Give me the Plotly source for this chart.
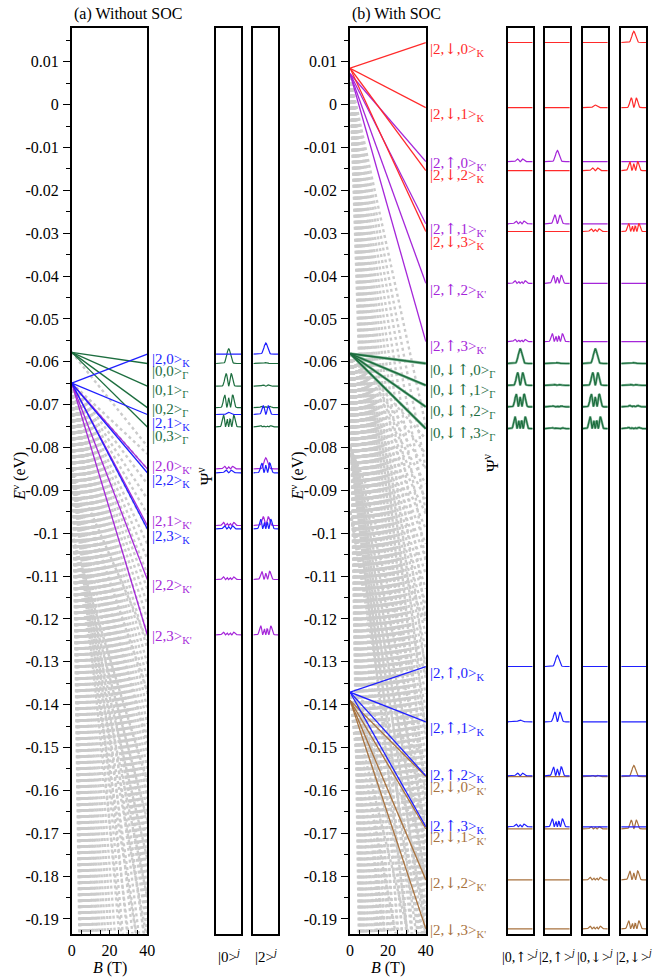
import plotly.graph_objects as go

W, H = 657, 980
Y_RANGE = [-0.1934, 0.0180]
B_RANGE = [0, 40]

# ---------------- tick labels ----------------
Y_TICK_VALS = [0.01, 0.0, -0.01, -0.02, -0.03, -0.04, -0.05, -0.06, -0.07, -0.08, -0.09, -0.10,
               -0.11, -0.12, -0.13, -0.14, -0.15, -0.16, -0.17, -0.18, -0.19]
Y_TICK_TEXT = ["0.01", "0", "-0.01", "-0.02", "-0.03", "-0.04", "-0.05", "-0.06", "-0.07", "-0.08",
               "-0.09", "-0.1", "-0.11", "-0.12", "-0.13", "-0.14", "-0.15", "-0.16", "-0.17", "-0.18", "-0.19"]
B_TICK_VALS = [0, 20, 40]
B_TICK_TEXT = ["0", "20", "40"]

# ---------------- panel (a): Landau-level lines (start at B=0, end at B=40) ----------------
A_GREEN_START = -0.0578
A_GREEN_END = [-0.0604, -0.0657, -0.0707, -0.0752]
A_BLUE_START = -0.0650
A_BLUE_END = [-0.0582, -0.0723, -0.0859, -0.0990]
A_PURPLE_START = -0.0650
A_PURPLE_END = [-0.0850, -0.0982, -0.1108, -0.1237]

A_GREEN_TEXT = ["|0,0&gt;<sub>Γ</sub>", "|0,1&gt;<sub>Γ</sub>", "|0,2&gt;<sub>Γ</sub>", "|0,3&gt;<sub>Γ</sub>"]
A_BLUE_TEXT = ["|2,0&gt;<sub>K</sub>", "|2,1&gt;<sub>K</sub>", "|2,2&gt;<sub>K</sub>", "|2,3&gt;<sub>K</sub>"]
A_PURPLE_TEXT = ["|2,0&gt;<sub>K'</sub>", "|2,1&gt;<sub>K'</sub>", "|2,2&gt;<sub>K'</sub>", "|2,3&gt;<sub>K'</sub>"]

# wavefunction weights in the |0> and |2> panels: (shape index, amplitude in eV)
A_GREEN_PSI0 = [(0, 0.0035), (1, 0.0030), (2, 0.0030), (3, 0.0028)]
A_GREEN_PSI2 = [(0, 0.0002), (1, 0.0003), (2, 0.0003), (3, 0.0003)]
A_BLUE_PSI0 = [(0, 0.0), (0, 0.0005), (1, 0.0006), (2, 0.0007)]
A_BLUE_PSI2 = [(0, 0.0026), (1, 0.0021), (2, 0.0023), (3, 0.0023)]
A_PURPLE_PSI0 = [(2, 0.0006), (3, 0.0007), (3, 0.0006), (3, 0.0006)]
A_PURPLE_PSI2 = [(0, 0.0026), (1, 0.0021), (2, 0.0019), (3, 0.0021)]

# gray background spectrum: dotted fan lines (start energy at B=0, energies at B=40)
FAN_A_TOP_START = -0.0578
FAN_A_TOP_END = [-0.0797]
FAN_A_START = -0.0650
FAN_A_END = [-0.0815, -0.085, -0.0885, -0.092, -0.0955, -0.099, -0.1025, -0.106, -0.1095, -0.113,
             -0.1165, -0.12, -0.1235, -0.127, -0.1305, -0.134, -0.1375, -0.141, -0.1445, -0.148,
             -0.1515, -0.155, -0.1585, -0.162, -0.1655, -0.169, -0.1725, -0.176, -0.1795, -0.183,
             -0.1865, -0.19, -0.1935, -0.2, -0.21, -0.225, -0.24, -0.255, -0.27, -0.29, -0.31,
             -0.33, -0.355, -0.38, -0.41, -0.44, -0.47, -0.51, -0.55, -0.6, -0.65, -0.71, -0.78,
             -0.85, -0.93, -1.02, -1.12, -1.23, -1.35]
FAN_A2_START = -0.085
FAN_A2_END = [-0.125, -0.137, -0.149, -0.161, -0.173, -0.185, -0.198, -0.212, -0.23, -0.25]
FAN_A3_START = -0.100
FAN_A3_END = [-0.158, -0.167, -0.176, -0.185, -0.195, -0.21]

# ---------------- panel (b) ----------------
B_RED_START = 0.0085
B_RED_END = [0.0145, -0.0007, -0.0154, -0.0296]
B_PURPLE_START = 0.0072
B_PURPLE_END = [-0.0133, -0.0278, -0.0417, -0.0553]
B_GREEN_START = -0.0581
B_GREEN_END = [-0.0604, -0.0655, -0.0705, -0.0756]
B_BLUE_START = -0.1371
B_BLUE_END = [-0.1311, -0.1440, -0.1566, -0.1685]
B_BROWN_START = -0.1390
B_BROWN_END = [-0.1568, -0.1690, -0.1809, -0.1923]

ARROW_DN = '<span style="font-family:DejaVu Serif">↓</span>'
ARROW_UP = '<span style="font-family:DejaVu Serif">↑</span>'
LEVEL_N = ["0", "1", "2", "3"]
B_RED_TEXT = ["|2," + ARROW_DN + "," + n + "&gt;<sub>K</sub>" for n in LEVEL_N]
B_PURPLE_TEXT = ["|2," + ARROW_UP + "," + n + "&gt;<sub>K'</sub>" for n in LEVEL_N]
B_GREEN_TEXT = ["|0," + ARROW_DN + ARROW_UP + "," + n + "&gt;<sub>Γ</sub>" for n in LEVEL_N]
B_BLUE_TEXT = ["|2," + ARROW_UP + "," + n + "&gt;<sub>K</sub>" for n in LEVEL_N]
B_BROWN_TEXT = ["|2," + ARROW_DN + "," + n + "&gt;<sub>K'</sub>" for n in LEVEL_N]

# wavefunction weights in |0,↑>, |2,↑>, |0,↓>, |2,↓> panels
B_RED_PSI = [
    [(0, 0.0), (0, 0.0), (0, 0.0), (0, 0.0026)],
    [(0, 0.0), (0, 0.0), (0, 0.0006), (1, 0.0023)],
    [(0, 0.0), (0, 0.0), (1, 0.0006), (2, 0.0021)],
    [(0, 0.0), (0, 0.0), (2, 0.0006), (3, 0.0019)],
]
B_PURPLE_PSI = [
    [(1, 0.0006), (0, 0.0026), (0, 0.0), (0, 0.0)],
    [(2, 0.0006), (1, 0.0021), (0, 0.0), (0, 0.0)],
    [(3, 0.0006), (2, 0.0019), (0, 0.0), (0, 0.0)],
    [(3, 0.0005), (3, 0.0019), (0, 0.0), (0, 0.0)],
]
B_GREEN_PSI = [
    [(0, 0.0035), (0, 0.0002), (0, 0.0035), (0, 0.0002)],
    [(1, 0.0030), (1, 0.0002), (1, 0.0030), (1, 0.0002)],
    [(2, 0.0030), (2, 0.0002), (2, 0.0030), (2, 0.0003)],
    [(3, 0.0028), (3, 0.0002), (3, 0.0028), (3, 0.0003)],
]
B_BLUE_PSI = [
    [(0, 0.0), (0, 0.0026), (0, 0.0), (0, 0.0)],
    [(0, 0.0004), (1, 0.0023), (0, 0.0), (0, 0.0)],
    [(1, 0.0006), (2, 0.0021), (0, 0.0), (0, 0.0)],
    [(2, 0.0006), (3, 0.0019), (0, 0.0), (0, 0.0)],
]
B_BROWN_PSI = [
    [(0, 0.0), (0, 0.0), (1, 0.0003), (0, 0.0026)],
    [(0, 0.0), (0, 0.0), (2, 0.0005), (1, 0.0021)],
    [(0, 0.0), (0, 0.0), (3, 0.0006), (2, 0.0021)],
    [(0, 0.0), (0, 0.0), (3, 0.0006), (3, 0.0019)],
]

FAN_B_UP_START = 0.0065
FAN_B_UP_END = [-0.075, -0.085, -0.095, -0.107, -0.12, -0.133, -0.147, -0.162, -0.178, -0.195,
                -0.215, -0.237, -0.26, -0.285, -0.315, -0.35, -0.39, -0.435, -0.49, -0.55]
FAN_B_MID_START = -0.0581
FAN_B_MID_END = [-0.078, -0.0815, -0.085, -0.0885, -0.092, -0.0955, -0.099, -0.1025, -0.106,
                 -0.1095, -0.113, -0.1165, -0.12, -0.1235, -0.127, -0.1305, -0.134, -0.1375,
                 -0.141, -0.1445, -0.148, -0.1515, -0.155, -0.1585, -0.162, -0.1655, -0.169,
                 -0.1725, -0.176, -0.1795, -0.183, -0.1865, -0.19, -0.1935, -0.2, -0.21, -0.225,
                 -0.24, -0.255, -0.27, -0.29, -0.31, -0.33, -0.355, -0.38, -0.41, -0.44, -0.47,
                 -0.51, -0.55, -0.6, -0.65, -0.71, -0.78, -0.85, -0.93, -1.02, -1.12, -1.23]
FAN_B_LOW_START = -0.1380
FAN_B_LOW_END = [-0.145, -0.152, -0.159, -0.166, -0.173, -0.18, -0.187, -0.195, -0.21, -0.23,
                 -0.26, -0.3]
FAN_B2_START = -0.080
FAN_B2_END = [-0.121, -0.133, -0.145, -0.157, -0.169, -0.181, -0.194, -0.21, -0.23]
FAN_B3_START = -0.095
FAN_B3_END = [-0.163, -0.172, -0.181, -0.19, -0.2]

# |psi_n|^2 profile shapes (half profile, read at equal steps from the centre outward)
PROFILES = {
    0: [1.0, 0.94, 0.78, 0.57, 0.37, 0.21, 0.10, 0.05, 0.02, 0.006, 0.002, 0, 0, 0, 0],
    1: [0.0, 0.16, 0.53, 0.87, 1.0, 0.89, 0.64, 0.39, 0.20, 0.08, 0.03, 0.01, 0, 0, 0],
    2: [0.77, 0.55, 0.15, 0.01, 0.28, 0.73, 0.99, 0.95, 0.69, 0.41, 0.20, 0.08, 0.03, 0.01, 0],
    3: [0.0, 0.27, 0.66, 0.62, 0.20, 0.0, 0.29, 0.77, 1.0, 0.89, 0.60, 0.32, 0.14, 0.05, 0.015],
}

# ---------------- colours ----------------
C_RED = "#ff2a2a"
C_PURPLE = "#a526d9"
C_BLUE = "#1f1fff"
C_GREEN = "#1d6e3f"
C_GREEN_LIGHT = "#86b89b"
C_BROWN = "#a8723e"
C_GRAY = "#cbcbcb"
FONT = "Liberation Serif"

# ---------------- layout geometry (pixels) ----------------
Y_TOP, Y_BOT = 27.5, 933.5
YDOM = [1 - Y_BOT / H, 1 - Y_TOP / H]


def xdom(p0, p1):
    return [p0 / W, p1 / W]


PANELS = {
    "a_main": ("x", "y", xdom(69, 146)),
    "a_0": ("x2", "y2", xdom(216, 241.7)),
    "a_2": ("x3", "y3", xdom(254, 279.3)),
    "b_main": ("x4", "y4", xdom(352.5, 429.7)),
    "b_0u": ("x5", "y5", xdom(513, 538.5)),
    "b_2u": ("x6", "y6", xdom(551, 576.3)),
    "b_0d": ("x7", "y7", xdom(589.5, 615)),
    "b_2d": ("x8", "y8", xdom(628.7, 654.3)),
}

fig = go.Figure()


def add_fan(panel, start, ends, width=2.4):
    xa, ya, _ = PANELS[panel]
    xs, ys = [], []
    for e in ends:
        xs += [B_RANGE[0], B_RANGE[1], None]
        ys += [start, e, None]
    fig.add_trace(go.Scatter(x=xs, y=ys, mode="lines", xaxis=xa, yaxis=ya, hoverinfo="skip",
                             line=dict(color=C_GRAY, width=width, dash="dot"), showlegend=False))


def add_lines(panel, start, ends, color, width=1.3):
    xa, ya, _ = PANELS[panel]
    xs, ys = [], []
    for e in ends:
        xs += [B_RANGE[0], B_RANGE[1], None]
        ys += [start, e, None]
    fig.add_trace(go.Scatter(x=xs, y=ys, mode="lines", xaxis=xa, yaxis=ya, hoverinfo="skip",
                             line=dict(color=color, width=width), showlegend=False))


def psi_xy(E, shape, amp):
    if amp == 0:
        return [0.0, 1.0], [E, E]
    half = PROFILES[shape]
    n = len(half)
    step = 0.025
    xs = [0.0] + [0.5 - step * i for i in range(n - 1, 0, -1)] + [0.5 + step * i for i in range(n)] + [1.0]
    vals = [0.0] + [half[i] for i in range(n - 1, 0, -1)] + [half[i] for i in range(n)] + [0.0]
    ys = [E + amp * v for v in vals]
    return xs, ys


def add_psi(panel, ends, specs, color, width=1.2):
    xa, ya, _ = PANELS[panel]
    xs, ys = [], []
    for E, (shape, amp) in zip(ends, specs):
        x, y = psi_xy(E, shape, amp)
        xs += x + [None]
        ys += y + [None]
    fig.add_trace(go.Scatter(x=xs, y=ys, mode="lines", xaxis=xa, yaxis=ya, hoverinfo="skip",
                             line=dict(color=color, width=width), showlegend=False))


# ---- panel (a) ----
add_fan("a_main", FAN_A_TOP_START, FAN_A_TOP_END)
add_fan("a_main", FAN_A_START, FAN_A_END)
add_fan("a_main", FAN_A2_START, FAN_A2_END)
add_fan("a_main", FAN_A3_START, FAN_A3_END)
add_lines("a_main", A_GREEN_START, A_GREEN_END, C_GREEN)
add_lines("a_main", A_PURPLE_START, A_PURPLE_END, C_PURPLE)
add_lines("a_main", A_BLUE_START, A_BLUE_END, C_BLUE)

add_psi("a_0", A_GREEN_END, A_GREEN_PSI0, C_GREEN)
add_psi("a_0", A_PURPLE_END, A_PURPLE_PSI0, C_PURPLE)
add_psi("a_0", A_BLUE_END, A_BLUE_PSI0, C_BLUE)
add_psi("a_2", A_GREEN_END, A_GREEN_PSI2, C_GREEN)
add_psi("a_2", A_PURPLE_END, A_PURPLE_PSI2, C_PURPLE)
add_psi("a_2", A_BLUE_END, A_BLUE_PSI2, C_BLUE)

# ---- panel (b) ----
add_fan("b_main", FAN_B_UP_START, FAN_B_UP_END)
add_fan("b_main", FAN_B_MID_START, FAN_B_MID_END)
add_fan("b_main", FAN_B_LOW_START, FAN_B_LOW_END)
add_fan("b_main", FAN_B2_START, FAN_B2_END)
add_fan("b_main", FAN_B3_START, FAN_B3_END)
add_lines("b_main", B_GREEN_START, B_GREEN_END, C_GREEN_LIGHT, width=2.8)
add_lines("b_main", B_GREEN_START, B_GREEN_END, C_GREEN, width=1.6)
add_lines("b_main", B_PURPLE_START, B_PURPLE_END, C_PURPLE)
add_lines("b_main", B_RED_START, B_RED_END, C_RED)
add_lines("b_main", B_BROWN_START, B_BROWN_END, C_BROWN)
add_lines("b_main", B_BLUE_START, B_BLUE_END, C_BLUE)

for k, panel in enumerate(["b_0u", "b_2u", "b_0d", "b_2d"]):
    add_psi(panel, B_GREEN_END, [s[k] for s in B_GREEN_PSI], C_GREEN_LIGHT, width=2.4)
    add_psi(panel, B_GREEN_END, [s[k] for s in B_GREEN_PSI], C_GREEN, width=1.2)
    add_psi(panel, B_PURPLE_END, [s[k] for s in B_PURPLE_PSI], C_PURPLE)
    add_psi(panel, B_RED_END, [s[k] for s in B_RED_PSI], C_RED)
    add_psi(panel, B_BROWN_END, [s[k] for s in B_BROWN_PSI], C_BROWN)
    add_psi(panel, B_BLUE_END, [s[k] for s in B_BLUE_PSI], C_BLUE)

# ---------------- axes ----------------
layout = dict(
    width=W, height=H, margin=dict(l=0, r=0, t=0, b=0),
    paper_bgcolor="white", plot_bgcolor="white", showlegend=False,
    font=dict(family=FONT, size=15, color="black"),
)

for name, (xa, ya, dom) in PANELS.items():
    xkey = "xaxis" if xa == "x" else "xaxis" + xa[1:]
    ykey = "yaxis" if ya == "y" else "yaxis" + ya[1:]
    main = name.endswith("main")
    xd = dict(domain=dom, anchor=ya, showline=True, mirror=True, linecolor="black", linewidth=1.5,
              showgrid=False, zeroline=False, fixedrange=True)
    yd = dict(domain=YDOM, anchor=xa, range=Y_RANGE, showline=True, mirror=True, linecolor="black",
              linewidth=1.5, showgrid=False, zeroline=False, fixedrange=True)
    if main:
        xd.update(range=B_RANGE, tickmode="array", tickvals=B_TICK_VALS, ticktext=B_TICK_TEXT,
                  ticks="inside", ticklen=4, tickwidth=1, tickcolor="black", ticklabelstandoff=2,
                  tickfont=dict(size=16, family=FONT),
                  minor=dict(tickmode="linear", tick0=0, dtick=5, ticks="inside", ticklen=4,
                             tickcolor="black", tickwidth=1))
        yd.update(tickmode="array", tickvals=Y_TICK_VALS, ticktext=Y_TICK_TEXT, ticks="outside",
                  ticklen=7, tickwidth=1, tickcolor="black", tickfont=dict(size=16, family=FONT),
                  ticklabelstandoff=1,
                  minor=dict(tickmode="linear", tick0=0, dtick=0.005, ticks="outside", ticklen=4,
                             tickcolor="black", tickwidth=1))
    else:
        xd.update(range=[0, 1], showticklabels=False, ticks="")
        yd.update(showticklabels=False, ticks="")
    layout[xkey] = xd
    layout[ykey] = yd

fig.update_layout(**layout)

# ---------------- annotations ----------------
ann = []


def px_ann(text, x, y, color="black", size=15, xanchor="left", yanchor="middle", angle=0):
    ann.append(dict(text=text, x=x / W, y=1 - y / H, xref="paper", yref="paper", showarrow=False,
                    xanchor=xanchor, yanchor=yanchor, textangle=angle,
                    font=dict(family=FONT, size=size, color=color)))


px_ann("(a) Without SOC", 69, 14, size=16)
px_ann("(b) With SOC", 352, 14, size=16)

LABEL_A_X = 149
A_GREEN_LY = [369, 388, 407, 434]
A_BLUE_LY = [357, 421, 478, 534]
A_PURPLE_LY = [464, 519, 583, 634]
for t, y in zip(A_GREEN_TEXT, A_GREEN_LY):
    px_ann(t, LABEL_A_X, y + 3, C_GREEN)
for t, y in zip(A_BLUE_TEXT, A_BLUE_LY):
    px_ann(t, LABEL_A_X, y + 3, C_BLUE)
for t, y in zip(A_PURPLE_TEXT, A_PURPLE_LY):
    px_ann(t, LABEL_A_X, y + 3, C_PURPLE)

LABEL_B_X = 432
B_RED_LY = [47, 112, 172, 240]
B_PURPLE_LY = [160, 226, 287, 343]
B_GREEN_LY = [367, 387, 408, 430]
B_BLUE_LY = [670, 725, 772, 823]
B_BROWN_LY = [784, 834, 880, 927]
for texts, ys, c in [(B_RED_TEXT, B_RED_LY, C_RED), (B_PURPLE_TEXT, B_PURPLE_LY, C_PURPLE),
                     (B_GREEN_TEXT, B_GREEN_LY, C_GREEN), (B_BLUE_TEXT, B_BLUE_LY, C_BLUE),
                     (B_BROWN_TEXT, B_BROWN_LY, C_BROWN)]:
    for t, y in zip(texts, ys):
        px_ann(t, LABEL_B_X, y + 3, c)

# axis titles
px_ann("<i>E</i><sup>ν</sup> (eV)", 15, 476, size=16, xanchor="center", angle=-90)
px_ann("<i>E</i><sup>ν</sup> (eV)", 298, 476, size=16, xanchor="center", angle=-90)
px_ann("Ψ<sup>ν</sup>", 205, 476, size=17, xanchor="center", angle=-90)
px_ann("Ψ<sup>ν</sup>", 496, 462, size=17, xanchor="center", angle=-90)
px_ann("<i>B</i> (T)", 108, 968, size=16, xanchor="center")
px_ann("<i>B</i> (T)", 391, 968, size=16, xanchor="center")

px_ann("|0&gt;<sup><i>j</i></sup>", 228.8, 956, size=15, xanchor="center")
px_ann("|2&gt;<sup><i>j</i></sup>", 266.6, 956, size=15, xanchor="center")
for lab, cx in zip(["|0," + ARROW_UP + "&gt;<sup><i>j</i></sup>", "|2," + ARROW_UP + "&gt;<sup><i>j</i></sup>",
                    "|0," + ARROW_DN + "&gt;<sup><i>j</i></sup>", "|2," + ARROW_DN + "&gt;<sup><i>j</i></sup>"],
                   [525.7, 563.6, 602.2, 641.5]):
    px_ann(lab, cx, 956, size=14, xanchor="center")

fig.update_layout(annotations=ann)
fig.write_html("out.html")
